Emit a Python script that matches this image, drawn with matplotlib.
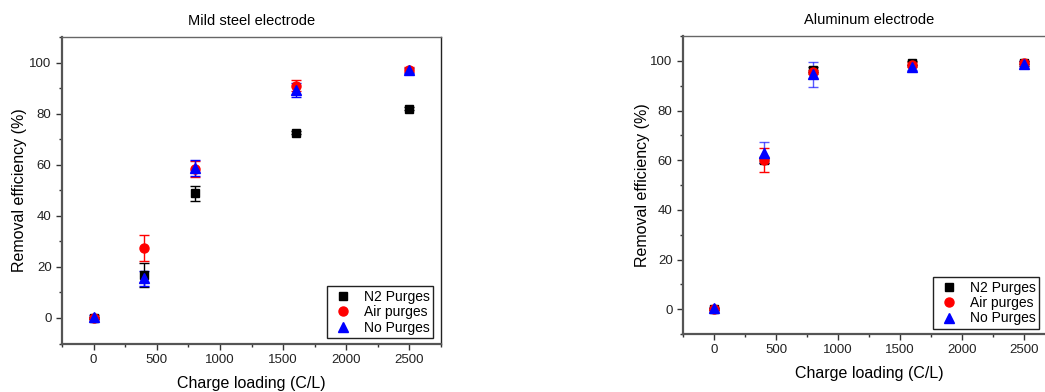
import numpy as np
from matplotlib import pyplot as plt
from matplotlib.ticker import MultipleLocator

plt.rcParams['font.family'] = ['Liberation Sans', 'DejaVu Sans']

charge = [0, 400, 800, 1600, 2500]

# Mild steel electrode
ms_n2 = [0.0, 16.9, 48.8, 72.6, 81.9]
ms_n2_err = [0.5, 4.8, 3.0, 0.5, 0.5]
ms_air = [0.0, 27.3, 58.3, 91.0, 97.2]
ms_air_err = [0.5, 5.0, 3.0, 2.0, 1.0]
ms_no = [0.5, 15.5, 58.7, 89.3, 96.9]
ms_no_err = [0.5, 2.8, 3.0, 2.6, 1.0]

# Aluminum electrode
al_n2 = [0.0, 60.0, 96.5, 99.0, 99.3]
al_n2_err = [0.5, 1.0, 1.0, 0.8, 0.5]
al_air = [0.0, 60.0, 95.5, 98.5, 99.0]
al_air_err = [0.5, 4.8, 1.0, 1.0, 1.0]
al_no = [0.5, 63.0, 94.5, 97.5, 98.8]
al_no_err = [0.5, 4.3, 5.1, 1.0, 1.0]

W, H = 1045, 392
fig = plt.figure(figsize=(W/100, H/100), dpi=100)

def panel(rect, title, n2, n2e, air, aire, no, noe, leg_anchor, blue_alpha, ypad):
    ax = fig.add_axes(rect)
    ax.errorbar(charge, n2, yerr=n2e, fmt='s', color='black', ms=6,
                capsize=3.5, elinewidth=1, capthick=1, label='N2 Purges')
    ax.errorbar(charge, air, yerr=aire, fmt='o', color='red', ms=6.5,
                capsize=3.5, elinewidth=1, capthick=1, label='Air purges')
    eb = ax.errorbar(charge, no, yerr=noe, fmt='^', color='blue', ms=7,
                     capsize=3.5, elinewidth=1, capthick=1, label='No Purges')
    for c in eb[1]:
        c.set_alpha(blue_alpha)
    for c in eb[2]:
        c.set_alpha(blue_alpha)

    ax.set_xlim(-250, 2750)
    ax.set_ylim(-10, 110)
    ax.xaxis.set_major_locator(MultipleLocator(500))
    ax.xaxis.set_minor_locator(MultipleLocator(250))
    ax.yaxis.set_major_locator(MultipleLocator(20))
    ax.yaxis.set_minor_locator(MultipleLocator(10))
    ax.tick_params(which='major', direction='out', length=4, width=1,
                   labelsize=9.5, color='#333333', labelcolor='#222222')
    ax.tick_params(which='minor', direction='out', length=2.5, width=1,
                   color='#333333')
    for s in ['left', 'bottom']:
        ax.spines[s].set_linewidth(1.6)
        ax.spines[s].set_color('#555555')
    ax.spines['top'].set_linewidth(1.0)
    ax.spines['top'].set_color('#666666')
    ax.spines['right'].set_linewidth(1.0)
    ax.spines['right'].set_color('#222222')

    ax.set_title(title, fontsize=10.5, pad=9)
    ax.set_xlabel('Charge loading (C/L)', fontsize=11.5, labelpad=7)
    ax.set_ylabel('Removal efficiency (%)', fontsize=11.5, labelpad=ypad)

    handles, labels = ax.get_legend_handles_labels()
    handles = [h[0] for h in handles]
    leg = ax.legend(handles, labels, loc='lower right', bbox_to_anchor=leg_anchor,
                    fontsize=10, frameon=True, fancybox=False, edgecolor='#222222',
                    framealpha=1, handletextpad=0.6, handlelength=1.8,
                    borderpad=0.25, labelspacing=0.1, borderaxespad=0)
    leg.get_frame().set_linewidth(1.0)
    return ax

panel([62/W, (H-343.5)/H, 379/W, 306.5/H], 'Mild steel electrode',
      ms_n2, ms_n2_err, ms_air, ms_air_err, ms_no, ms_no_err, (0.979, 0.018), 1.0, 2)
panel([683/W, (H-334)/H, 372/W, 298/H], 'Aluminum electrode',
      al_n2, al_n2_err, al_air, al_air_err, al_no, al_no_err, (0.957, 0.017), 0.65, 0)

plt.savefig('out.png', dpi=100)
